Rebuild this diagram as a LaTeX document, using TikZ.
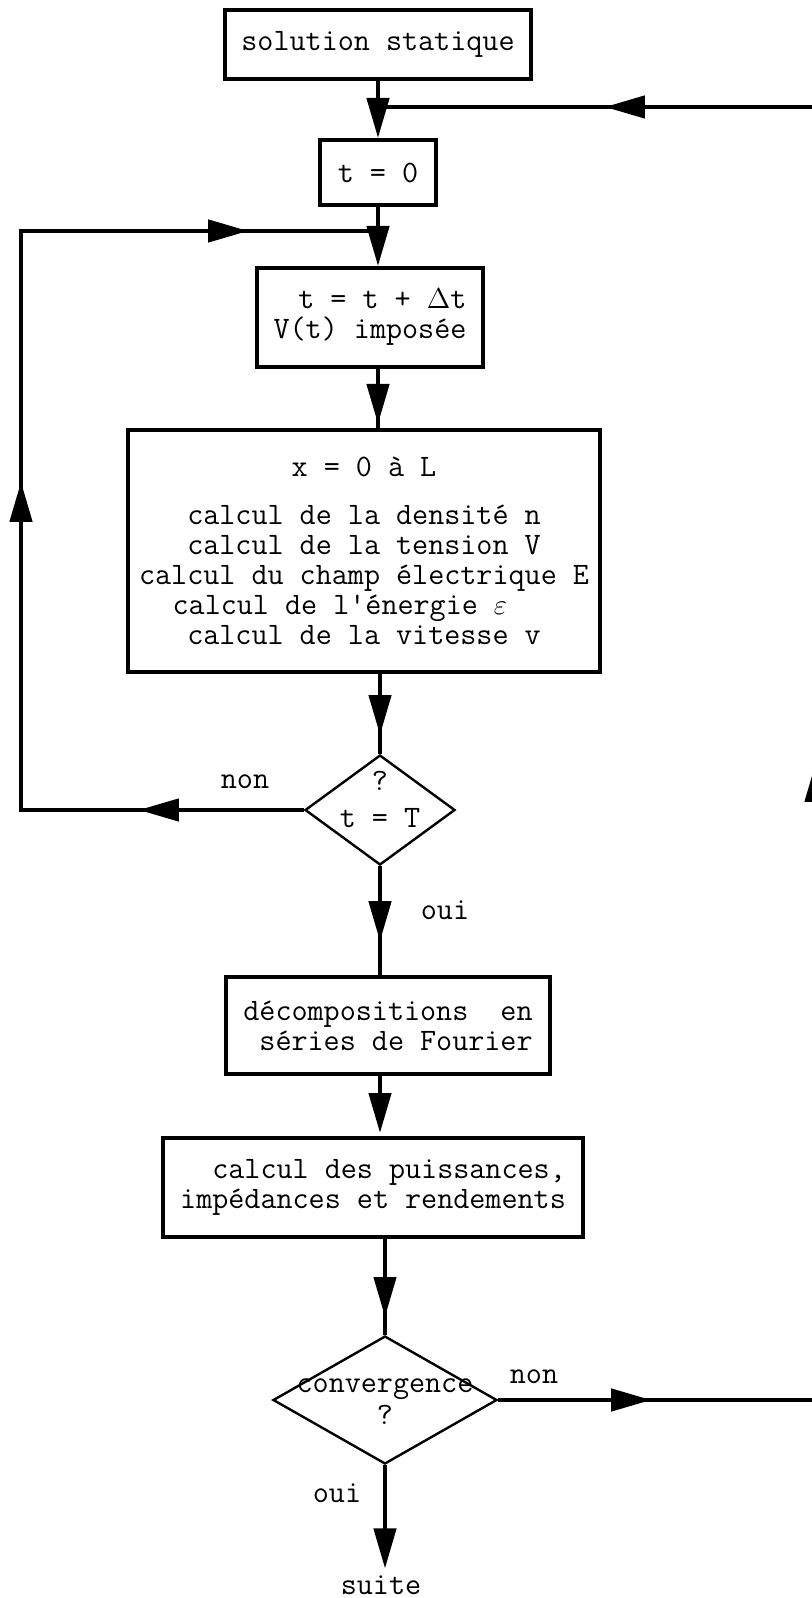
\documentclass[tikz,border=0pt]{standalone}
\usepackage{tikz}
\usetikzlibrary{shapes,arrows.meta,decorations.markings}
\usepackage{amsmath}
\tikzstyle{block} = [rectangle, draw, line width=2pt, inner sep=0pt, align=center]
\tikzstyle{decision} = [diamond, draw, line width=1.2pt, inner sep=0pt]
\tikzstyle{line} = [draw, line width=2.2pt]
\tikzstyle{endarrow} = [-{Triangle[length=20pt,width=11pt]}]
\tikzset{arrowat/.style={postaction={decorate, decoration={markings,
    mark=at position #1 with {\arrow{Triangle[length=20pt,width=11pt]}}}}}}

\begin{document}
\begin{tikzpicture}[x=0.5pt, y=-0.5pt, node distance=64pt,
    font=\fontsize{15.6pt}{15pt}\selectfont\ttfamily]
    \path[use as bounding box, clip] (0,0) rectangle (812,1598);
    % Place nodes
    \node [block, minimum width=153pt, minimum height=34.5pt] (sol) at (378,44.5) {solution statique};
    \node [block, below of=sol, minimum width=58pt, minimum height=32.5pt] (init) {t = 0};
    \node [block, below of=init, node distance=72.5pt, xshift=-4pt, align=right,
        minimum width=113pt, minimum height=49.5pt] (incr) {t = t + $\Delta$t\\V(t) imposée};
    \node [block, below of=incr, node distance=116.75pt, xshift=-3pt,
        minimum width=236pt, minimum height=121pt] (calc) {x = 0 à L\\[9pt]
        calcul de la densité n\\calcul de la tension V\\
        calcul du champ électrique E\\calcul de l'énergie $\varepsilon$\phantom{xxx}\\
        calcul de la vitesse v};
    \node [decision, below of=calc, node distance=129.5pt, xshift=8pt,
        minimum width=75pt, minimum height=55pt] (test) {};
    \node [align=center] (testtxt) at ([yshift=5.5pt]test.center) {?\\[3.5pt]t = T};
    \node [block, below of=test, node distance=107.75pt, xshift=4pt, align=right,
        minimum width=162pt, minimum height=48.5pt] (fourier) {décompositions~~en\\séries de Fourier};
    \node [block, below of=fourier, node distance=81pt, xshift=-7.5pt, align=right,
        minimum width=210pt, minimum height=49.5pt] (puiss) {calcul des puissances,\\impédances et rendements};
    \node [decision, below of=puiss, node distance=106.25pt, xshift=6pt,
        minimum width=112pt, minimum height=64pt] (conv) {};
    \node [align=center] (convtxt) at ([yshift=-1pt]conv.center) {convergence\\[1pt]?};
    \node [below of=conv, node distance=92.5pt, xshift=-2pt] (suite) {suite};
    \coordinate (loopc) at (21,231);
    \coordinate (backc) at (816,107);
    \node (nonA) at (245,782) {non};
    \node (ouiA) at (445,910) {oui};
    \node (nonB) at (534,1377) {non};
    \node (ouiB) at (337,1493) {oui};

    \path [line, endarrow] (sol) -- (init);
    \path [line, endarrow] (init) -- (init |- incr.north);
    \path [line, arrowat=27.5pt] (init |- incr.south) -- (init |- calc.north);
    \path [line, arrowat=30.5pt] (test |- calc.south) -- (test);
    \path [line, arrowat=37.5pt] (test) -- (test |- fourier.north);
    \path [line, endarrow, shorten >=1.5pt] (test |- fourier.south) -- (test |- puiss.north);
    \path [line, arrowat=39pt] (conv |- puiss.south) -- (conv);
    \path [line, endarrow] (conv) -- (conv |- suite.north);
    % boucle en t
    \path [line, arrowat=82.5pt, arrowat=305.5pt, arrowat=544.5pt]
        (test.west) -| (loopc) -- (init |- loopc);
    % retour si pas de convergence
    \path [line, arrowat=76.5pt, arrowat=478pt, arrowat=911pt]
        (conv.east) -| (backc) -- (sol |- backc);
\end{tikzpicture}
\end{document}
